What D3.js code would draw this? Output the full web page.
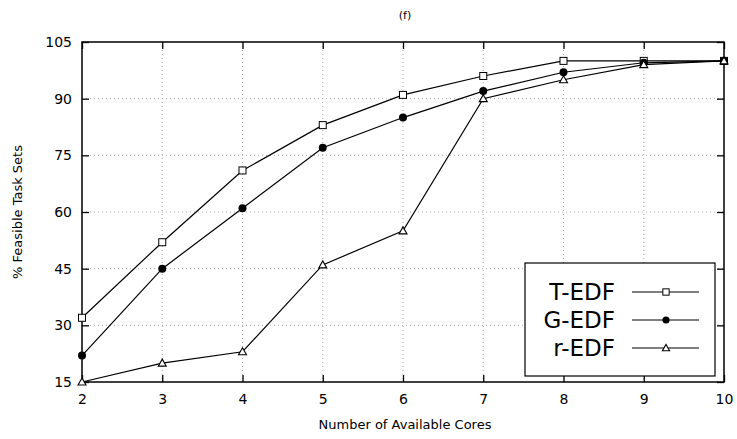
<!DOCTYPE html>
<html>
<head>
<meta charset="utf-8">
<script src="https://cdn.jsdelivr.net/npm/d3@7"></script>
<style>
  body { margin: 0; background: #fff; }
  text { font-family: "DejaVu Sans", sans-serif; fill: #000; }
</style>
</head>
<body>
<svg id="chart" width="737" height="439"></svg>
<script>
// Feasibility results for each scheduler vs. number of cores
const cores = [2, 3, 4, 5, 6, 7, 8, 9, 10];
const tEdf = [32, 52, 71, 83, 91, 96, 100, 100, 100];
const gEdf = [22, 45, 61, 77, 85, 92, 97, 99.5, 100];
const rEdf = [15, 20, 23, 46, 55, 90, 95, 99, 100];
const yTicks = [15, 30, 45, 60, 75, 90, 105];
const seriesNames = ["T-EDF", "G-EDF", "r-EDF"];
const markerTypes = ["square", "circle", "triangle"];

const svg = d3.select("#chart");
const L = 82, R = 724, T = 42, B = 382;

const x = d3.scaleLinear().domain([2, 10]).range([L, R]);
const y = d3.scaleLinear().domain([15, 105]).range([B, T]);

// grid
const grid = svg.append("g").attr("stroke", "#aaa").attr("stroke-width", 1).attr("stroke-dasharray", "1,3");
cores.slice(1, -1).forEach(c => grid.append("line").attr("x1", x(c)).attr("x2", x(c)).attr("y1", T).attr("y2", B));
yTicks.slice(1, -1).forEach(v => grid.append("line").attr("y1", y(v)).attr("y2", y(v)).attr("x1", L).attr("x2", R));

// axes with inward ticks
const ax = svg.append("g");
ax.append("g").attr("transform", `translate(0,${B})`)
  .call(d3.axisBottom(x).tickValues(cores).tickFormat(d3.format("d")).tickSizeInner(-7).tickSizeOuter(0).tickPadding(12));
ax.append("g").attr("transform", `translate(0,${T})`)
  .call(d3.axisTop(x).tickValues(cores).tickFormat("").tickSizeInner(-7).tickSizeOuter(0));
ax.append("g").attr("transform", `translate(${L},0)`)
  .call(d3.axisLeft(y).tickValues(yTicks).tickFormat(d3.format("d")).tickSizeInner(-7).tickSizeOuter(0).tickPadding(10));
ax.append("g").attr("transform", `translate(${R},0)`)
  .call(d3.axisRight(y).tickValues(yTicks).tickFormat("").tickSizeInner(-7).tickSizeOuter(0));
ax.selectAll(".domain").remove();
ax.selectAll(".tick line").attr("stroke", "#000").attr("stroke-width", 1.3);
ax.selectAll(".tick text").attr("font-size", 14).attr("font-family", "DejaVu Sans, sans-serif");

svg.append("rect").attr("x", L).attr("y", T).attr("width", R - L).attr("height", B - T)
  .attr("fill", "none").attr("stroke", "#000").attr("stroke-width", 1.5);

// markers
function drawMarker(g, type, cx, cy, s = 1) {
  if (type === "square") {
    g.append("rect").attr("x", cx - 3.5 * s).attr("y", cy - 3.5 * s).attr("width", 7 * s).attr("height", 7 * s)
      .attr("fill", "#fff").attr("stroke", "#000").attr("stroke-width", 1);
  } else if (type === "circle") {
    g.append("circle").attr("cx", cx).attr("cy", cy).attr("r", 4 * s).attr("fill", "#000");
  } else {
    g.append("path").attr("d", `M${cx},${cy - 4 * s}L${cx + 4 * s},${cy + 3 * s}L${cx - 4 * s},${cy + 3 * s}Z`)
      .attr("fill", "#fff").attr("stroke", "#000").attr("stroke-width", 1.1);
  }
}

const line = d3.line().x((d, i) => x(cores[i])).y(d => y(d));
const allSeries = [tEdf, gEdf, rEdf];
allSeries.forEach((vals, s) => {
  const g = svg.append("g");
  g.append("path").datum(vals).attr("d", line).attr("fill", "none").attr("stroke", "#000").attr("stroke-width", 1.2);
  vals.forEach((v, i) => drawMarker(g, markerTypes[s], x(cores[i]), y(v)));
});

// legend
const lg = svg.append("g");
lg.append("rect").attr("x", 525).attr("y", 263).attr("width", 190).attr("height", 113)
  .attr("fill", "#fff").attr("stroke", "#000").attr("stroke-width", 1.2);
seriesNames.forEach((name, i) => {
  const cy = 292 + i * 28;
  lg.append("text").attr("x", 615).attr("y", cy).attr("dy", "0.36em").attr("text-anchor", "end")
    .attr("font-size", 23).text(name);
  lg.append("line").attr("x1", 632).attr("x2", 699).attr("y1", cy).attr("y2", cy)
    .attr("stroke", "#000").attr("stroke-width", 1.2);
  drawMarker(lg, markerTypes[i], 666, cy, 0.9);
});

// titles
svg.append("text").attr("x", 405).attr("y", 19).attr("text-anchor", "middle").attr("font-size", 11).text("(f)");
svg.append("text").attr("x", 405).attr("y", 429).attr("text-anchor", "middle").attr("font-size", 13).text("Number of Available Cores");
svg.append("text").attr("transform", `translate(22,${(T + B) / 2}) rotate(-90)`).attr("text-anchor", "middle")
  .attr("font-size", 13).text("% Feasible Task Sets");
</script>
</body>
</html>
